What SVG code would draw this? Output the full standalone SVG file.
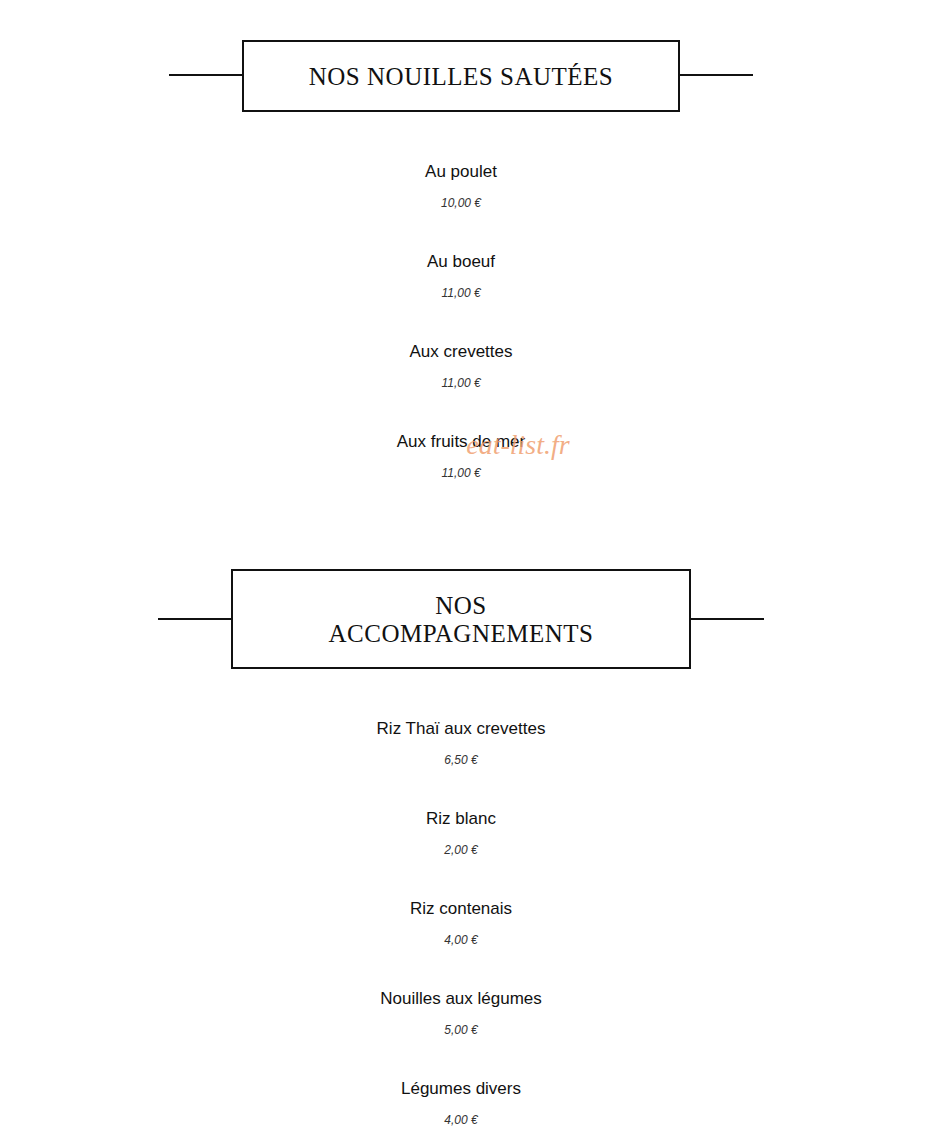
<svg xmlns="http://www.w3.org/2000/svg" width="929" height="1138" viewBox="0 0 929 1138">
<style>
.t{font-family:"Liberation Serif",serif;font-size:25px;fill:#111;text-anchor:middle;letter-spacing:0.5px}
.n{font-family:"Liberation Sans",Arial,sans-serif;font-size:17px;fill:#111;text-anchor:middle}
.p{font-family:"Liberation Sans",Arial,sans-serif;font-size:12px;font-style:italic;fill:#333;text-anchor:middle}
.b{fill:#fff;stroke:#111;stroke-width:2}
.l{stroke:#111;stroke-width:2}
</style>
<rect width="929" height="1138" fill="#fff"/>
<g id="header1">
<line class="l" x1="169" y1="75" x2="243" y2="75"/><line class="l" x1="679" y1="75" x2="753" y2="75"/>
<rect class="b" x="243" y="41" width="436" height="70"/>
<text class="t" x="461" y="85">NOS NOUILLES SAUTÉES</text>
</g>
<g id="items1">
<text class="n" x="461" y="177">Au poulet</text><text class="p" x="461" y="207">10,00 €</text>
<text class="n" x="461" y="267">Au boeuf</text><text class="p" x="461" y="297">11,00 €</text>
<text class="n" x="461" y="357">Aux crevettes</text><text class="p" x="461" y="387">11,00 €</text>
<text class="n" x="461" y="447">Aux fruits de mer</text><text class="p" x="461" y="477">11,00 €</text>
</g>
<text x="518" y="454" font-family="Liberation Serif,serif" font-style="italic" font-size="28" fill="#f0a070" fill-opacity="0.85" text-anchor="middle">eat-list.fr</text>
<g id="header2">
<line class="l" x1="158" y1="619" x2="232" y2="619"/><line class="l" x1="690" y1="619" x2="764" y2="619"/>
<rect class="b" x="232" y="570" width="458" height="98"/>
<text class="t" x="461" y="614">NOS</text>
<text class="t" x="461" y="642">ACCOMPAGNEMENTS</text>
</g>
<g id="items2">
<text class="n" x="461" y="734">Riz Thaï aux crevettes</text><text class="p" x="461" y="764">6,50 €</text>
<text class="n" x="461" y="824">Riz blanc</text><text class="p" x="461" y="854">2,00 €</text>
<text class="n" x="461" y="914">Riz contenais</text><text class="p" x="461" y="944">4,00 €</text>
<text class="n" x="461" y="1004">Nouilles aux légumes</text><text class="p" x="461" y="1034">5,00 €</text>
<text class="n" x="461" y="1094">Légumes divers</text><text class="p" x="461" y="1124">4,00 €</text>
</g>
</svg>
